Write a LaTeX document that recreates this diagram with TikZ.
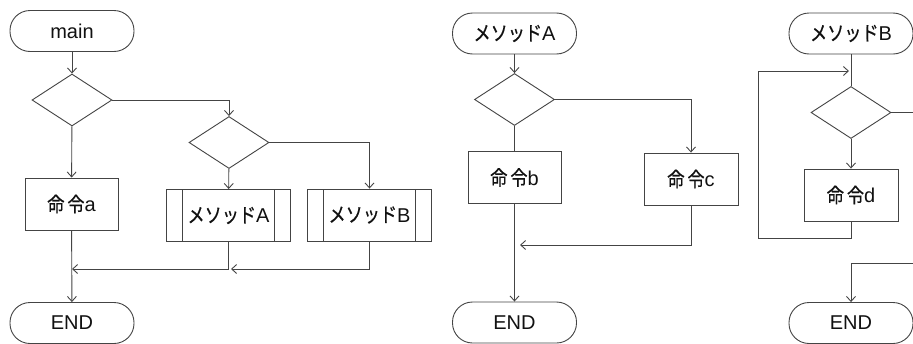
\documentclass[tikz,border=0pt]{standalone}
\usepackage{fontspec}
\setmainfont{Liberation Sans}
\newfontfamily\cjk[Scale=1.02,FakeStretch=0.84,FakeBold=0.5]{Noto Sans CJK JP}
\usetikzlibrary{shapes.geometric,arrows.meta}
\definecolor{ln}{HTML}{444444}
\definecolor{tx}{HTML}{111111}
\newcommand{\mei}{{\cjk 命\kern3pt令}}
\newcommand{\met}{{\cjk メソッド}}
\begin{document}
\begin{tikzpicture}[x=1pt,y=-1pt,
  every node/.style={font=\fontsize{20}{22}\selectfont, text=tx},
  base/.style={draw=ln, line width=0.9pt, inner sep=0pt, fill=white},
  term/.style={base, rectangle, rounded corners=20pt, minimum width=124pt, minimum height=41pt},
  proc/.style={base, rectangle, minimum width=93pt, minimum height=52pt},
  sub/.style={base, rectangle, minimum width=124pt, minimum height=52pt,
    path picture={
      \draw[ln, line width=0.9pt] ([xshift=16pt]path picture bounding box.north west) -- ([xshift=16pt]path picture bounding box.south west);
      \draw[ln, line width=0.9pt] ([xshift=-16pt]path picture bounding box.north east) -- ([xshift=-16pt]path picture bounding box.south east);
    }},
  dec/.style={base, diamond, minimum width=80pt, minimum height=52pt},
  conn/.style={draw=ln, line width=0.9pt},
  arr/.style={conn, -{Straight Barb[length=5pt,width=9pt]}},
]
\useasboundingbox (0,0) rectangle (913,343);

% ---- main ----
\node[term] (main) at (72,31) {main};
\node[dec] (d1) at (72,100) {};
\node[dec] (d2) at (229,142.5) {};
\node[proc] (a) at (71.5,204) {\mei a};
\node[sub] (mA) at (228.5,215.5) {\met A};
\node[sub] (mB) at (369.5,215) {\met B};
\node[term] (end1) at (72,323) {END};
\coordinate (j1) at (72,269);
\coordinate (j2) at (231,269);

\draw[arr] (main) -- (d1);
\draw[arr] (d1.east) -| (d2.north);
\draw[arr] (d2) -- (mA);
\draw[arr] (d2.east) -| (mB.north);
\draw[arr] (d1) -- (a);
\draw[arr] (a) -- (end1);
\draw[arr] (mA.south) |- (j1);
\draw[arr] (mB.south) |- (j2);

% ---- method A ----
\node[term] (mAs) at (514.5,33.5) {\met A};
\node[dec] (d3) at (514.5,99.5) {};
\node[proc] (b) at (514.5,177.5) {\mei b};
\node[proc, minimum width=94pt] (c) at (691,179) {\mei c};
\node[term] (end2) at (514.5,322.5) {END};
\coordinate (j3) at (520,245);

\draw[arr] (mAs) -- (d3);
\draw[conn] (d3) -- (b);
\draw[arr] (d3.east) -| (c.north);
\draw[arr] (c.south) |- (j3);
\draw[arr] (b) -- (end2);

% ---- method B ----
\node[term] (mBs) at (851,33.5) {\met B};
\node[dec] (d4) at (851,112.5) {};
\node[proc, minimum width=94pt] (d) at (851,195) {\mei d};
\node[term] (end3) at (851,323) {END};
\coordinate (lp1) at (758,238);
\coordinate (lp2) at (849,71);
\coordinate (ex1) at (914,112.5);
\coordinate (ex2) at (914,263);

\draw[conn] (mBs) -- (d4);
\draw[arr] (d.south) |- (lp1) |- (lp2);
\draw[conn] (d4.east) -- (ex1);
\draw[arr] (d4) -- (d);
\draw[arr] (ex2) -| (end3.north);
\end{tikzpicture}
\end{document}
